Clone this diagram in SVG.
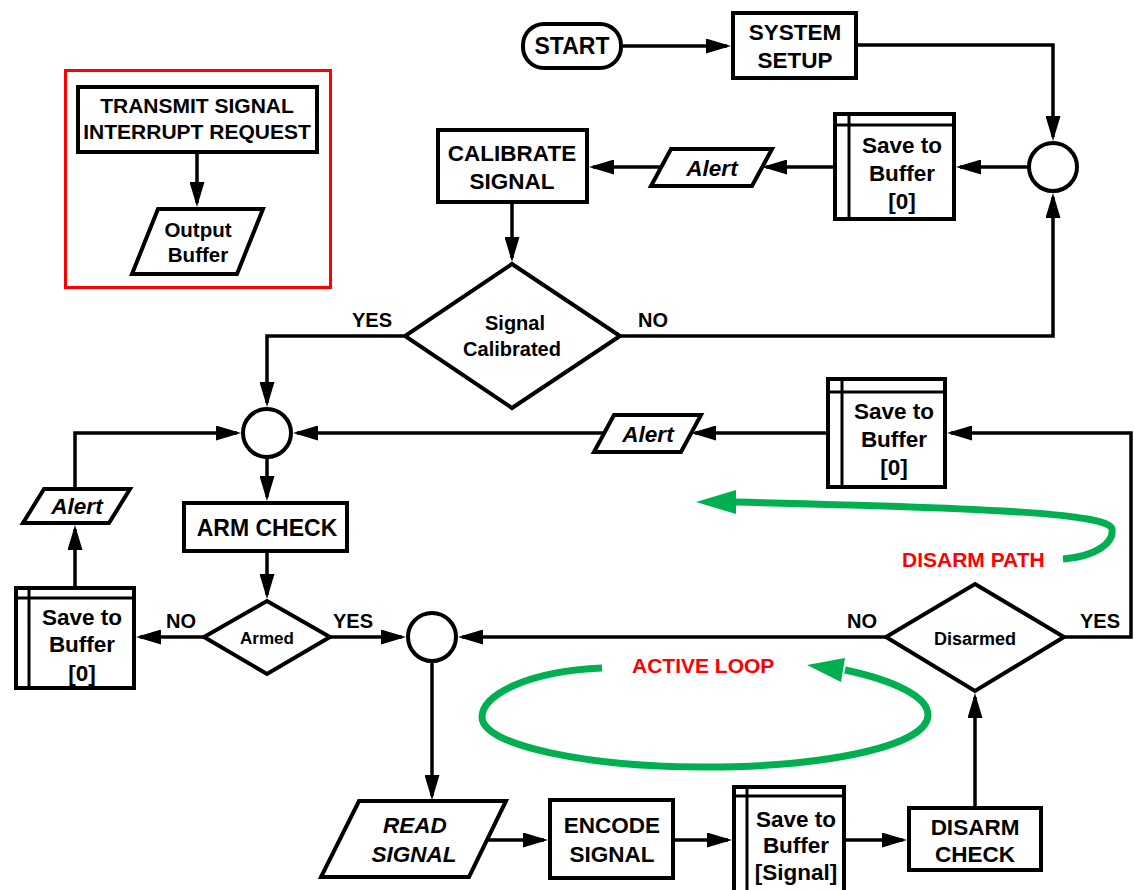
<svg xmlns="http://www.w3.org/2000/svg" width="1134" height="890" viewBox="0 0 1134 890">
  <defs>
    <style>
      .shape { fill: #ffffff; stroke: #000000; stroke-width: 4; stroke-linejoin: miter; }
      .inner { fill: none; stroke: #000000; stroke-width: 3; }
      .wire { fill: none; stroke: #000000; stroke-width: 3.5; marker-end: url(#ah); }
      .t { font-family: "Liberation Sans", Arial, sans-serif; font-weight: bold; fill: #000000; text-anchor: middle; }
      .big { font-size: 22.5px; }
      .it { font-style: italic; }
      .lbl { font-family: "Liberation Sans", Arial, sans-serif; font-weight: bold; font-size: 20px; fill: #000000; }
      .note { font-family: "Liberation Sans", Arial, sans-serif; font-weight: bold; font-size: 21px; fill: #ff0000; }
      .flow { fill: none; stroke: #00b050; stroke-width: 7; }
      .flowhead { fill: #00b050; }
    </style>
    <marker id="ah" markerUnits="userSpaceOnUse" markerWidth="25" markerHeight="15" refX="21" refY="7.5" orient="auto">
      <path d="M0,0 L25,7.5 L0,15 z" fill="#000000"/>
    </marker>
  </defs>

  <rect width="1134" height="890" fill="#ffffff"/>

  <!-- interrupt handler inset -->
  <g id="interrupt-frame">
    <rect x="65.5" y="70.5" width="265" height="217" fill="none" stroke="#ff0000" stroke-width="3"/>
  </g>
  <g id="transmit-irq">
    <rect class="shape" x="78" y="87" width="239" height="65"/>
    <text class="t" x="197" y="113" font-size="21">TRANSMIT SIGNAL</text>
    <text class="t" x="197" y="139" font-size="21">INTERRUPT REQUEST</text>
  </g>
  <g id="output-buffer">
    <polygon class="shape" points="158,209 263,209 237,274 132,274"/>
    <text class="t" x="198" y="237" font-size="20.5">Output</text>
    <text class="t" x="198" y="262" font-size="20.5">Buffer</text>
  </g>

  <!-- main flow nodes -->
  <g id="start">
    <rect class="shape" x="523" y="24" width="98" height="44" rx="21" ry="21"/>
    <text class="t" x="572" y="54" font-size="23">START</text>
  </g>
  <g id="system-setup">
    <rect class="shape" x="733" y="13" width="123" height="65"/>
    <text class="t big" x="795" y="40">SYSTEM</text>
    <text class="t big" x="795" y="68">SETUP</text>
  </g>
  <g id="join-top">
    <circle class="shape" cx="1053" cy="167" r="24"/>
  </g>
  <g id="save-top">
    <rect class="shape" x="835" y="114" width="119" height="105"/>
    <line class="inner" x1="849" y1="114" x2="849" y2="219"/>
    <line class="inner" x1="835" y1="125" x2="954" y2="125"/>
    <text class="t big" x="902" y="153">Save to</text>
    <text class="t big" x="902" y="181">Buffer</text>
    <text class="t big" x="902" y="209">[0]</text>
  </g>
  <g id="alert-top">
    <polygon class="shape" points="671,149 772,149 752,186 651,186"/>
    <text class="t big it" x="712" y="176">Alert</text>
  </g>
  <g id="calibrate">
    <rect class="shape" x="438" y="130" width="149" height="72"/>
    <text class="t big" x="512" y="161">CALIBRATE</text>
    <text class="t big" x="512" y="189">SIGNAL</text>
  </g>
  <g id="signal-calibrated">
    <polygon class="shape" points="512,264 620,336 512,408 405,336"/>
    <text class="t" x="515" y="330" font-size="20">Signal</text>
    <text class="t" x="512" y="356" font-size="20">Calibrated</text>
  </g>
  <g id="join-mid">
    <circle class="shape" cx="267" cy="433" r="24"/>
  </g>
  <g id="alert-mid">
    <polygon class="shape" points="614,415 701,415 681,452 594,452"/>
    <text class="t big it" x="648" y="442">Alert</text>
  </g>
  <g id="save-mid">
    <rect class="shape" x="828" y="379" width="117" height="108"/>
    <line class="inner" x1="842" y1="379" x2="842" y2="487"/>
    <line class="inner" x1="828" y1="392" x2="945" y2="392"/>
    <text class="t big" x="894" y="419">Save to</text>
    <text class="t big" x="894" y="447">Buffer</text>
    <text class="t big" x="894" y="475">[0]</text>
  </g>
  <g id="alert-left">
    <polygon class="shape" points="44,489 130,489 109,523 23,523"/>
    <text class="t big it" x="77" y="514">Alert</text>
  </g>
  <g id="save-left">
    <rect class="shape" x="16" y="588" width="118" height="100"/>
    <line class="inner" x1="29" y1="588" x2="29" y2="688"/>
    <line class="inner" x1="16" y1="598" x2="134" y2="598"/>
    <text class="t big" x="82" y="625">Save to</text>
    <text class="t big" x="82" y="652">Buffer</text>
    <text class="t big" x="82" y="681">[0]</text>
  </g>
  <g id="arm-check">
    <rect class="shape" x="184" y="503" width="163" height="48"/>
    <text class="t" x="267" y="536" font-size="23">ARM CHECK</text>
  </g>
  <g id="armed">
    <polygon class="shape" points="267,601 330,637 267,674 204,637"/>
    <text class="t" x="267" y="644" font-size="17">Armed</text>
  </g>
  <g id="join-bottom">
    <circle class="shape" cx="432" cy="637" r="24"/>
  </g>
  <g id="disarmed">
    <polygon class="shape" points="975,584 1064,637 975,691 886,637"/>
    <text class="t" x="975" y="645" font-size="18">Disarmed</text>
  </g>
  <g id="read-signal">
    <polygon class="shape" points="359,801 506,801 469,877 321,877"/>
    <text class="t big it" x="415" y="833">READ</text>
    <text class="t big it" x="414" y="862">SIGNAL</text>
  </g>
  <g id="encode-signal">
    <rect class="shape" x="550" y="800" width="123" height="78"/>
    <text class="t big" x="612" y="833">ENCODE</text>
    <text class="t big" x="612" y="862">SIGNAL</text>
  </g>
  <g id="save-signal">
    <rect class="shape" x="734" y="787" width="110" height="120"/>
    <line class="inner" x1="747" y1="787" x2="747" y2="892"/>
    <line class="inner" x1="734" y1="796" x2="844" y2="796"/>
    <text class="t big" x="796" y="827">Save to</text>
    <text class="t big" x="796" y="853">Buffer</text>
    <text class="t big" x="796" y="880">[Signal]</text>
  </g>
  <g id="disarm-check">
    <rect class="shape" x="909" y="808" width="132" height="62"/>
    <text class="t big" x="975" y="835">DISARM</text>
    <text class="t big" x="975" y="862">CHECK</text>
  </g>

  <!-- connectors -->
  <g id="connectors">
    <path class="wire" d="M197,154 L197,203"/>
    <path class="wire" d="M623,46 L727,46"/>
    <path class="wire" d="M858,45 L1053,45 L1053,137"/>
    <path class="wire" d="M1029,167 L960,167"/>
    <path class="wire" d="M835,167 L766,167"/>
    <path class="wire" d="M661,167 L593,167"/>
    <path class="wire" d="M512,204 L512,258"/>
    <path class="wire" d="M620,336 L1053,336 L1053,197"/>
    <path class="wire" d="M405,336 L267,336 L267,403"/>
    <path class="wire" d="M1064,637 L1131,637 L1131,433 L951,433"/>
    <path class="wire" d="M828,433 L695,433"/>
    <path class="wire" d="M604,433 L297,433"/>
    <path class="wire" d="M75,489 L75,433 L237,433"/>
    <path class="wire" d="M75,588 L75,529"/>
    <path class="wire" d="M267,459 L267,497"/>
    <path class="wire" d="M267,553 L267,595"/>
    <path class="wire" d="M204,637 L140,637"/>
    <path class="wire" d="M330,637 L402,637"/>
    <path class="wire" d="M886,637 L462,637"/>
    <path class="wire" d="M432,663 L432,796"/>
    <path class="wire" d="M488,840 L544,840"/>
    <path class="wire" d="M673,840 L728,840"/>
    <path class="wire" d="M844,840 L903,840"/>
    <path class="wire" d="M975,808 L975,697"/>
  </g>

  <!-- branch labels -->
  <g id="branch-labels">
    <text class="lbl" x="392" y="327" text-anchor="end">YES</text>
    <text class="lbl" x="638" y="327">NO</text>
    <text class="lbl" x="166" y="628">NO</text>
    <text class="lbl" x="333" y="628">YES</text>
    <text class="lbl" x="847" y="628">NO</text>
    <text class="lbl" x="1080" y="628">YES</text>
  </g>

  <!-- loop annotations -->
  <g id="disarm-path">
    <path class="flow" d="M1063,559 C1098,556 1114,542 1112,529 C1109,514 1000,508 733,502"/>
    <polygon class="flowhead" points="696,502 736,490 736,514"/>
    <text class="note" x="902" y="567">DISARM PATH</text>
  </g>
  <g id="active-loop">
    <path class="flow" d="M602,668 C530,671 482,694 482,717 C482,746 590,767 705,767 C830,767 928,745 928,715 C928,696 892,680 845,670"/>
    <polygon class="flowhead" points="807,665 845,658 841,682"/>
    <text class="note" x="632" y="673">ACTIVE LOOP</text>
  </g>
</svg>
